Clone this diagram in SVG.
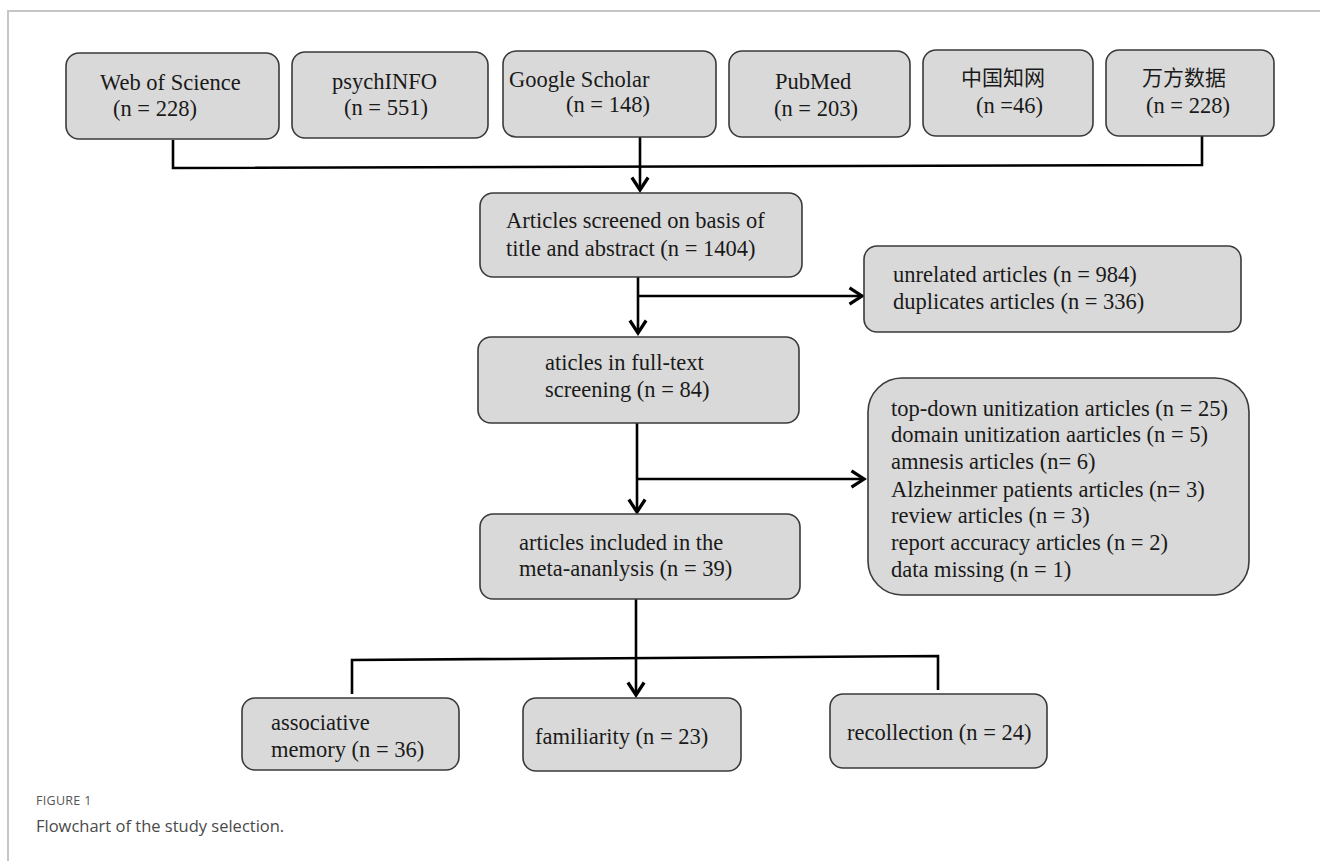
<svg xmlns="http://www.w3.org/2000/svg" width="1320" height="861" viewBox="0 0 1320 861">
<defs>
<style>
.box{fill:#d9d9d9;stroke:#3a3a3a;stroke-width:1.6}
.t{font-family:"Liberation Serif","Times New Roman",serif;font-size:22.5px;fill:#1a1a1a}
.cjk{font-family:"Liberation Serif","Noto Sans CJK SC",sans-serif;font-size:21px;fill:#1a1a1a}
.ln{fill:none;stroke:#000;stroke-width:2.6}
.cap1{font-family:"Open Sans","Liberation Sans",sans-serif;font-size:12.5px;fill:#555;letter-spacing:0.3px}
.cap2{font-family:"Open Sans","Liberation Sans",sans-serif;font-size:16.5px;fill:#4a4a4a}
</style>
<marker id="ah" markerUnits="userSpaceOnUse" markerWidth="20" markerHeight="20" viewBox="-12 -8 14 16" refX="0" refY="0" orient="auto">
<path d="M-10,-6.5 L0,0 L-10,6.5" fill="none" stroke="#000" stroke-width="2.6"/>
</marker>
</defs>
<rect width="1320" height="861" fill="#fff"/>
<path d="M8,861 V11 H1320" fill="none" stroke="#c6c6c6" stroke-width="2"/>

<g id="connectors">
<path class="ln" d="M173,140 V168 L1202,165 V136"/>
<path class="ln" d="M640,137 V190" marker-end="url(#ah)"/>
<path class="ln" d="M638,277 V333" marker-end="url(#ah)"/>
<path class="ln" d="M638,296 H862" marker-end="url(#ah)"/>
<path class="ln" d="M637,423 V512" marker-end="url(#ah)"/>
<path class="ln" d="M637,479 H864" marker-end="url(#ah)"/>
<path class="ln" d="M636,599 V695" marker-end="url(#ah)"/>
<path class="ln" d="M352,694 V660 L938,656 V690"/>
</g>

<g id="wos"><rect class="box" x="66" y="53" width="213" height="86" rx="13"/>
<text class="t" x="100" y="90">Web of Science</text><text class="t" x="113" y="116">(n = 228)</text></g>
<g id="psychinfo"><rect class="box" x="292" y="52" width="196" height="86" rx="13"/>
<text class="t" x="332" y="89">psychINFO</text><text class="t" x="344" y="115">(n = 551)</text></g>
<g id="google"><rect class="box" x="503" y="51" width="213" height="86" rx="13"/>
<text class="t" x="509" y="87">Google Scholar</text><text class="t" x="566" y="112">(n = 148)</text></g>
<g id="pubmed"><rect class="box" x="729" y="51" width="181" height="86" rx="13"/>
<text class="t" x="775" y="89">PubMed</text><text class="t" x="774" y="116">(n = 203)</text></g>
<g id="cnki"><rect class="box" x="923" y="50" width="170" height="86" rx="13"/>
<text class="cjk" x="961" y="85">中国知网</text><text class="t" x="976" y="113">(n =46)</text></g>
<g id="wanfang"><rect class="box" x="1106" y="50" width="168" height="86" rx="13"/>
<text class="cjk" x="1142" y="85">万方数据</text><text class="t" x="1146" y="113">(n = 228)</text></g>

<g id="screened"><rect class="box" x="480" y="193" width="322" height="84" rx="13"/>
<text class="t" x="506" y="228">Articles screened on basis of</text><text class="t" x="506" y="256">title and abstract (n = 1404)</text></g>
<g id="excluded1"><rect class="box" x="864" y="246" width="377" height="86" rx="13"/>
<text class="t" x="893" y="282">unrelated articles (n = 984)</text><text class="t" x="893" y="309">duplicates articles (n = 336)</text></g>
<g id="fulltext"><rect class="box" x="478" y="337" width="321" height="86" rx="13"/>
<text class="t" x="545" y="370">aticles in full-text</text><text class="t" x="545" y="397">screening (n = 84)</text></g>
<g id="excluded2"><rect class="box" x="868" y="378" width="381" height="217" rx="34"/>
<text class="t" x="891" y="416">top-down unitization articles (n = 25)</text>
<text class="t" x="891" y="442">domain unitization aarticles (n = 5)</text>
<text class="t" x="891" y="469">amnesis articles (n= 6)</text>
<text class="t" x="891" y="497">Alzheinmer patients articles (n= 3)</text>
<text class="t" x="891" y="523">review articles (n = 3)</text>
<text class="t" x="891" y="550">report accuracy articles (n = 2)</text>
<text class="t" x="891" y="577">data missing (n = 1)</text></g>
<g id="included"><rect class="box" x="480" y="514" width="320" height="85" rx="13"/>
<text class="t" x="519" y="550">articles included in the</text><text class="t" x="519" y="576">meta-ananlysis (n = 39)</text></g>
<g id="associative"><rect class="box" x="242" y="698" width="217" height="72" rx="13"/>
<text class="t" x="271" y="730">associative</text><text class="t" x="271" y="757">memory (n = 36)</text></g>
<g id="familiarity"><rect class="box" x="523" y="698" width="218" height="73" rx="13"/>
<text class="t" x="535" y="744">familiarity (n = 23)</text></g>
<g id="recollection"><rect class="box" x="830" y="694" width="217" height="74" rx="13"/>
<text class="t" x="847" y="740">recollection (n = 24)</text></g>

<g id="caption">
<text class="cap1" x="36" y="805">FIGURE 1</text>
<text class="cap2" x="36" y="832">Flowchart of the study selection.</text>
</g>
</svg>
